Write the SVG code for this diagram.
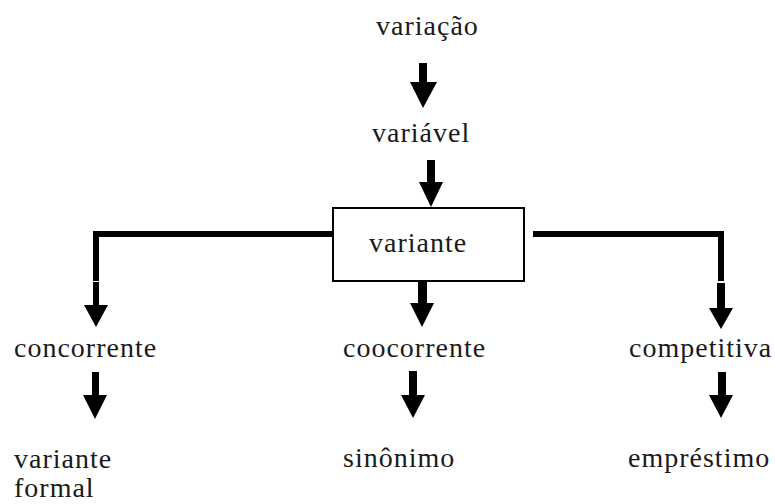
<svg xmlns="http://www.w3.org/2000/svg" width="775" height="504" viewBox="0 0 775 504">
<style>
.t{font-family:"Liberation Serif",serif;font-size:28px;fill:#1a1a1a;letter-spacing:1px}
.ln{fill:none;stroke:#000;stroke-width:6}
.box{fill:#fff;stroke:#000;stroke-width:2}
</style>
<rect width="775" height="504" fill="#fff"/>
<g id="connectors" fill="#000">
<polygon points="419,63 427,63 427,82 437,82 423,108 410,82 419,82"/>
<polygon points="427,160 435,160 435,182 443,182 431,207 419,182 427,182"/>
<polyline class="ln" points="335,234 96,234 96,281"/>
<polygon points="93,282 99,282 99,305 108,305 96,327 84,305 93,305"/>
<polygon points="418,281 427,281 427,303 434,303 422,327 410,303 418,303"/>
<polyline class="ln" points="533,234 721,234 721,281"/>
<polygon points="717,283 725,283 725,308 733,308 721,329 709,308 717,308"/>
<polygon points="92,372 99,372 99,395 107,395 95,419 83,395 92,395"/>
<polygon points="409,371 417,371 417,395 425,395 413,418 401,395 409,395"/>
<polygon points="718,372 726,372 726,395 733,395 721,418 709,395 718,395"/>
</g>
<g id="variacao"><text class="t" x="376" y="35">variação</text></g>
<g id="variavel"><text class="t" x="372" y="142">variável</text></g>
<g id="variante-box"><rect class="box" x="333" y="208" width="191" height="73"/><text class="t" x="369" y="252">variante</text></g>
<g id="concorrente"><text class="t" x="14" y="357">concorrente</text></g>
<g id="coocorrente"><text class="t" x="343" y="357">coocorrente</text></g>
<g id="competitiva"><text class="t" x="629" y="357">competitiva</text></g>
<g id="variante-formal"><text class="t" x="14" y="468">variante</text><text class="t" x="14" y="497">formal</text></g>
<g id="sinonimo"><text class="t" x="343" y="467">sinônimo</text></g>
<g id="emprestimo"><text class="t" x="628" y="467">empréstimo</text></g>
</svg>
